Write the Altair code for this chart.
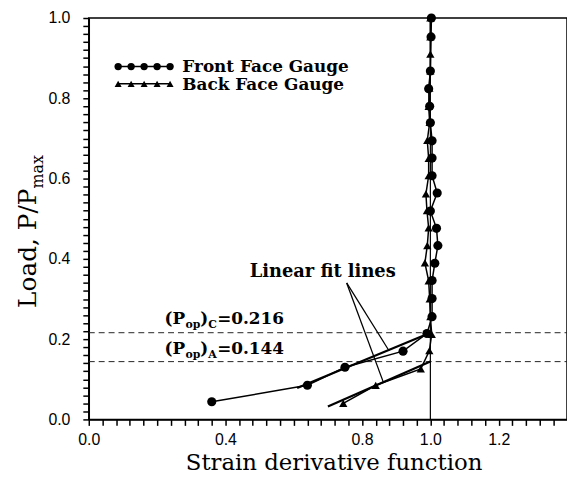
import altair as alt
import pandas as pd

# ---------------- data ----------------
front_x = [0.36, 0.64, 0.75, 0.92, 0.99, 1.005, 1.005, 1.005, 1.013, 1.022, 1.018,
           1.0, 1.02, 1.005, 1.005, 1.005, 1.0, 0.998, 0.995, 1.0, 1.002, 1.003]
front_y = [0.044, 0.085, 0.130, 0.170, 0.214, 0.256, 0.301, 0.346, 0.389, 0.433, 0.476,
           0.519, 0.564, 0.607, 0.651, 0.694, 0.739, 0.780, 0.824, 0.868, 0.953, 1.0]

back_x = [0.745, 0.84, 0.972, 0.997, 1.004, 1.0, 0.998, 0.995, 0.984, 0.991, 0.995,
          0.99, 0.987, 0.995, 0.995, 0.991, 0.998, 0.995, 0.997, 1.0, 1.0, 1.0, 1.0]
back_y = [0.040, 0.085, 0.126, 0.171, 0.212, 0.256, 0.300, 0.345, 0.390, 0.433, 0.477,
          0.520, 0.562, 0.607, 0.650, 0.695, 0.740, 0.780, 0.825, 0.868, 0.910, 0.953, 1.0]

fit_front_x = [0.61, 1.0]
fit_front_y = [0.078, 0.216]
fit_back_x = [0.70, 1.0]
fit_back_y = [0.032, 0.144]

pop_values = [0.216, 0.144]
pop_subscripts = ["C", "A"]
pop_label_x = 0.222
pop_label_y = [0.237, 0.163]

fit_label = "Linear fit lines"
fit_label_x = 0.471
fit_label_y = 0.356
pointer_from_x = 0.755
pointer_from_y = 0.340
pointer_to_x = [0.879, 0.863]
pointer_to_y = [0.171, 0.091]

legend_names = ["Front Face Gauge", "Back Face Gauge"]
legend_marker_x = [0.086, 0.124, 0.162, 0.200, 0.238]
legend_marker_y = [0.879, 0.836]
legend_text_x = 0.274
legend_text_y = [0.879, 0.833]

x_domain = [0.0, 1.4]
y_domain = [0.0, 1.0]
x_tick_labels = [0.0, 0.4, 0.8, 1.0, 1.2]
y_tick_labels = [0.0, 0.2, 0.4, 0.6, 0.8, 1.0]
x_minor_values = [round(i * 0.04, 2) for i in range(36)]
y_minor_values = [round(i * 0.02, 2) for i in range(51)]

x_title = "Strain derivative function"
y_title_main = "Load, P/P"
y_title_sub = "max"

# ---------------- styling ----------------
SERIF = "DejaVu Serif"
SANS = "Liberation Sans"

x_major_test = "indexof(%s, round(datum.value*100)/100) >= 0" % str([round(v, 2) for v in x_tick_labels])
y_major_test = "indexof(%s, round(datum.value*100)/100) >= 0" % str([round(v, 2) for v in y_tick_labels])

x_axis = alt.Axis(
    values=x_minor_values,
    labelExpr="(%s) ? format(datum.value, '.1f') : ''" % x_major_test,
    labelOverlap=False, labelFlush=False,
    ticks=True, tickSize=6, tickColor="black", tickWidth=1.5,
    domainColor="black", domainWidth=1.5,
    labelFont=SANS, labelFontSize=16, labelColor="black", labelPadding=6,
    grid=False,
    title=x_title, titleFont=SERIF, titleFontSize=23, titleFontWeight="normal",
    titleColor="black", titleBaseline="alphabetic", titleX=247, titleY=51,
    titleAlign="center",
)
y_axis = alt.Axis(
    values=y_minor_values,
    labelExpr="(%s) ? format(datum.value, '.1f') : ''" % y_major_test,
    labelOverlap=False, labelFlush=False,
    ticks=True, tickSize=6, tickColor="black", tickWidth=1.5,
    domainColor="black", domainWidth=1.5,
    labelFont=SANS, labelFontSize=16, labelColor="black", labelPadding=13,
    grid=False, title=None,
)
xs = alt.Scale(domain=x_domain, nice=False, zero=False)
ys = alt.Scale(domain=y_domain, nice=False, zero=False)


def X(f="x"):
    return alt.X(f + ":Q", scale=xs, axis=x_axis)


def Y(f="y"):
    return alt.Y(f + ":Q", scale=ys, axis=y_axis)


front_df = pd.DataFrame({"x": front_x, "y": front_y})
back_df = pd.DataFrame({"x": back_x, "y": back_y})

layers = []

# threshold dashed lines
thr_df = pd.DataFrame({"y": pop_values, "x": [x_domain[0]] * 2, "x2": [x_domain[1]] * 2})
layers.append(alt.Chart(thr_df).mark_rule(color="#222", strokeWidth=1, strokeDash=[6, 4]).encode(
    x=X("x"), x2="x2:Q", y=Y("y")))

# vertical reference line at 1.0
vref_df = pd.DataFrame({"x": [1.0], "y": [y_domain[0]], "y2": [y_domain[1]]})
layers.append(alt.Chart(vref_df).mark_rule(color="black", strokeWidth=1.2).encode(
    x=X("x"), y=Y("y"), y2="y2:Q"))

# data lines and markers
layers.append(alt.Chart(front_df).mark_line(color="black", strokeWidth=1.5).encode(
    x=X(), y=Y(), order="y:Q"))
layers.append(alt.Chart(back_df).mark_line(color="black", strokeWidth=1.5).encode(
    x=X(), y=Y(), order="y:Q"))

# linear fit lines
fit_df = pd.DataFrame({
    "x": fit_front_x + fit_back_x,
    "y": fit_front_y + fit_back_y,
    "g": ["front", "front", "back", "back"],
})
layers.append(alt.Chart(fit_df).mark_line(color="black", strokeWidth=2.2).encode(
    x=X(), y=Y(), detail="g:N", order="x:Q"))

layers.append(alt.Chart(front_df).mark_point(shape="circle", filled=True, size=85, color="black", opacity=1).encode(
    x=X(), y=Y()))
layers.append(alt.Chart(back_df).mark_point(shape="triangle-up", filled=True, size=70, color="black", opacity=1).encode(
    x=X(), y=Y()))

# pointer lines
ptr_df = pd.DataFrame({"x": [pointer_from_x] * 2, "y": [pointer_from_y] * 2,
                       "x2": pointer_to_x, "y2": pointer_to_y})
layers.append(alt.Chart(ptr_df).mark_rule(color="black", strokeWidth=1.3).encode(
    x=X("x"), y=Y("y"), x2="x2:Q", y2="y2:Q"))

# Linear fit label
layers.append(alt.Chart(pd.DataFrame({"x": [fit_label_x], "y": [fit_label_y], "t": [fit_label]})).mark_text(
    font=SERIF, fontWeight="bold", fontSize=18, align="left", baseline="alphabetic", color="black").encode(
    x=X(), y=Y(), text="t:N"))

# (P_op)_C / (P_op)_A labels built from pieces
for val, sub, ly in zip(pop_values, pop_subscripts, pop_label_y):
    pieces = [("(P", 17, 0, 0), ("op", 11, 21, 4), (")", 17, 36, 0), (sub, 11, 44, 4),
              ("=%.3f" % val, 17, 53, 0)]
    for txt, fs, dx, dy in pieces:
        layers.append(alt.Chart(pd.DataFrame({"x": [pop_label_x], "y": [ly], "t": [txt]})).mark_text(
            font=SERIF, fontWeight="bold", fontSize=fs, align="left", baseline="alphabetic",
            dx=dx, dy=dy, color="black").encode(x=X(), y=Y(), text="t:N"))

# legend
leg_rows = []
for name, my in zip(legend_names, legend_marker_y):
    for mx in legend_marker_x:
        leg_rows.append({"x": mx, "y": my, "g": name})
leg_df = pd.DataFrame(leg_rows)
layers.append(alt.Chart(leg_df).mark_line(color="black", strokeWidth=1.5).encode(
    x=X(), y=Y(), detail="g:N"))
layers.append(alt.Chart(leg_df[leg_df.g == legend_names[0]]).mark_point(
    shape="circle", filled=True, size=55, color="black", opacity=1).encode(x=X(), y=Y()))
layers.append(alt.Chart(leg_df[leg_df.g == legend_names[1]]).mark_point(
    shape="triangle-up", filled=True, size=50, color="black", opacity=1).encode(x=X(), y=Y()))
leg_txt = pd.DataFrame({"x": [legend_text_x] * 2, "y": legend_text_y, "t": legend_names})
layers.append(alt.Chart(leg_txt).mark_text(font=SERIF, fontWeight="bold", fontSize=17, align="left",
                                           baseline="middle", color="black").encode(
    x=X(), y=Y(), text="t:N"))

# y axis title with subscript
layers.append(alt.Chart(pd.DataFrame({"t": [y_title_main]})).mark_text(
    font=SERIF, fontSize=25, angle=270, align="right", baseline="alphabetic", color="black").encode(
    x=alt.value(-53), y=alt.value(172), text="t:N"))
layers.append(alt.Chart(pd.DataFrame({"t": [y_title_sub]})).mark_text(
    font=SERIF, fontSize=16, angle=270, align="left", baseline="alphabetic", dy=7, color="black").encode(
    x=alt.value(-53), y=alt.value(172), text="t:N"))

chart = alt.layer(*layers).properties(
    width=482.5, height=405,
    autosize=alt.AutoSizeParams(type="none"),
    padding={"left": 81.5, "top": 8, "right": 0, "bottom": 57},
    background="white",
).configure_view(stroke="black", strokeWidth=1.5)

chart.save("out.html", embed_options={"renderer": "svg", "actions": False})
